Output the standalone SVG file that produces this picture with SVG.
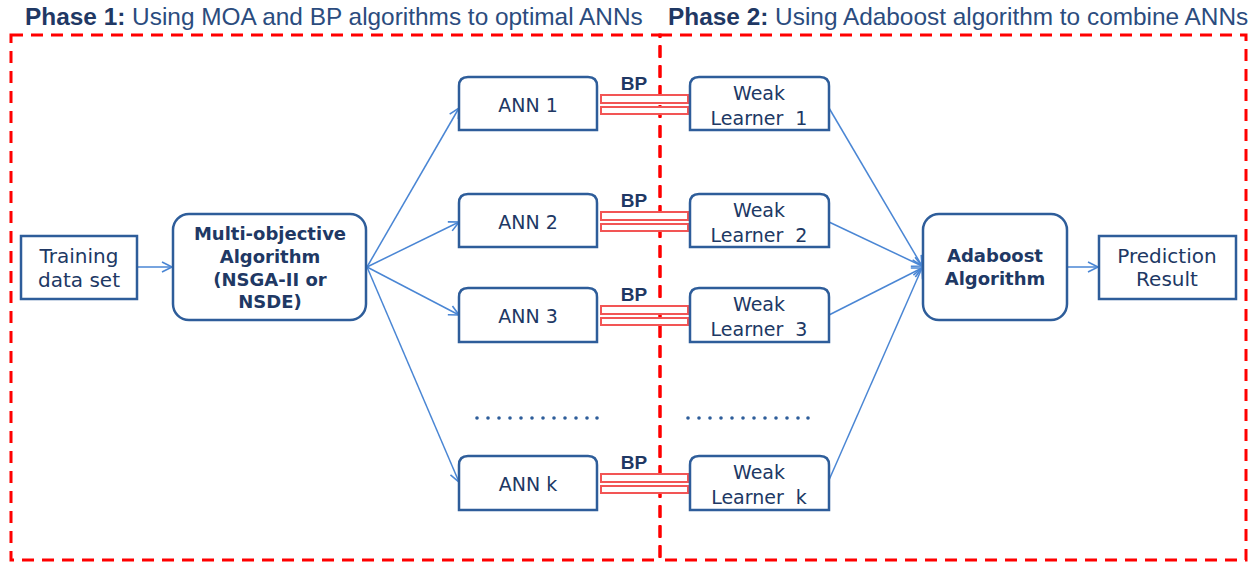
<svg xmlns="http://www.w3.org/2000/svg" width="1259" height="562" viewBox="0 0 1259 562">
  <defs>
    <marker id="arrow" markerUnits="userSpaceOnUse" markerWidth="14" markerHeight="14" refX="11" refY="6" orient="auto">
      <path d="M1,1 L11,6 L1,11" fill="none" stroke="#4A86D4" stroke-width="1.6"/>
    </marker>
    <style>
      .phase { fill: none; stroke: #FF0000; stroke-width: 3; stroke-dasharray: 12 8; }
      .title { font-family: "Liberation Sans", Arial, sans-serif; font-size: 24.4px; fill: #2B4C7E; }
      .title .b { font-weight: bold; fill: #1F3864; }
      .box { fill: #FFFFFF; stroke: #2E5D9A; stroke-width: 2.5; }
      .lbl { font-family: "DejaVu Sans", Verdana, sans-serif; font-size: 19px; fill: #203864; text-anchor: middle; white-space: pre; }
      .big { font-size: 20px; }
      .bold { font-family: "DejaVu Sans", Verdana, sans-serif; font-size: 18px; font-weight: bold; fill: #203864; text-anchor: middle; }
      .bp { font-family: "Liberation Sans", Arial, sans-serif; font-size: 19px; font-weight: bold; fill: #1F3864; text-anchor: middle; }
      .bar { fill: #FFFFFF; stroke: #F25555; stroke-width: 2; }
      .link { fill: none; stroke: #4A86D4; stroke-width: 1.5; marker-end: url(#arrow); }
      .dot { fill: #2E5D9A; }
    </style>
  </defs>

  <!-- phase frames -->
  <g id="phase1">
    <rect class="phase" x="11" y="35" width="649" height="525"/>
    <text class="title" x="25" y="25"><tspan class="b">Phase 1:</tspan> Using MOA and BP algorithms to optimal ANNs</text>
  </g>
  <g id="phase2">
    <rect class="phase" x="660" y="35" width="586" height="525"/>
    <text class="title" x="668" y="25"><tspan class="b">Phase 2:</tspan> Using Adaboost algorithm to combine ANNs</text>
  </g>

  <!-- connectors -->
  <g id="connectors">
    <line class="link" x1="137" y1="267" x2="172" y2="267"/>
    <line class="link" x1="367" y1="267" x2="459" y2="108"/>
    <line class="link" x1="367" y1="267" x2="459" y2="222"/>
    <line class="link" x1="367" y1="267" x2="459" y2="315"/>
    <line class="link" x1="367" y1="267" x2="459" y2="482"/>
    <line class="link" x1="829" y1="108" x2="922" y2="266"/>
    <line class="link" x1="829" y1="222" x2="922" y2="266"/>
    <line class="link" x1="829" y1="315" x2="922" y2="268"/>
    <line class="link" x1="829" y1="480" x2="922" y2="268"/>
    <line class="link" x1="1067" y1="267" x2="1098" y2="267"/>
  </g>

  <!-- input and optimiser -->
  <g id="training">
    <rect class="box" x="21" y="236" width="116" height="63"/>
    <text class="lbl big" x="79" y="263">Training</text>
    <text class="lbl big" x="79" y="287">data set</text>
  </g>
  <g id="moa">
    <rect class="box" x="173" y="214" width="193" height="106" rx="16"/>
    <text class="bold" x="270" y="240">Multi-objective</text>
    <text class="bold" x="270" y="263">Algorithm</text>
    <text class="bold" x="270" y="286">(NSGA-II or</text>
    <text class="bold" x="270" y="308">NSDE)</text>
  </g>

  <!-- networks -->
  <g id="ann1">
    <path class="box" d="M459,130 V86 Q459,77 468,77 H588 Q597,77 597,86 V130 Z"/>
    <text class="lbl" x="528" y="112">ANN 1</text>
  </g>
  <g id="ann2">
    <path class="box" d="M459,247 V203 Q459,194 468,194 H588 Q597,194 597,203 V247 Z"/>
    <text class="lbl" x="528" y="229">ANN 2</text>
  </g>
  <g id="ann3">
    <path class="box" d="M459,342 V297 Q459,288 468,288 H588 Q597,288 597,297 V342 Z"/>
    <text class="lbl" x="528" y="323">ANN 3</text>
  </g>
  <g id="annk">
    <path class="box" d="M459,510 V465 Q459,456 468,456 H588 Q597,456 597,465 V510 Z"/>
    <text class="lbl" x="528" y="491">ANN k</text>
  </g>

  <!-- BP links -->
  <g id="bp1">
    <text class="bp" x="634" y="90">BP</text>
    <rect class="bar" x="601" y="95" width="87" height="8"/>
    <rect class="bar" x="601" y="107" width="87" height="7"/>
  </g>
  <g id="bp2">
    <text class="bp" x="634" y="207">BP</text>
    <rect class="bar" x="601" y="212" width="87" height="8"/>
    <rect class="bar" x="601" y="224" width="87" height="7"/>
  </g>
  <g id="bp3">
    <text class="bp" x="634" y="301">BP</text>
    <rect class="bar" x="601" y="306" width="87" height="8"/>
    <rect class="bar" x="601" y="318" width="87" height="7"/>
  </g>
  <g id="bpk">
    <text class="bp" x="634" y="469">BP</text>
    <rect class="bar" x="601" y="474" width="87" height="8"/>
    <rect class="bar" x="601" y="486" width="87" height="7"/>
  </g>

  <!-- weak learners -->
  <g id="wl1">
    <path class="box" d="M690,130 V86 Q690,77 699,77 H820 Q829,77 829,86 V130 Z"/>
    <text class="lbl" x="759" y="100">Weak</text>
    <text class="lbl" x="759" y="125">Learner  1</text>
  </g>
  <g id="wl2">
    <path class="box" d="M690,247 V203 Q690,194 699,194 H820 Q829,194 829,203 V247 Z"/>
    <text class="lbl" x="759" y="217">Weak</text>
    <text class="lbl" x="759" y="242">Learner  2</text>
  </g>
  <g id="wl3">
    <path class="box" d="M690,342 V297 Q690,288 699,288 H820 Q829,288 829,297 V342 Z"/>
    <text class="lbl" x="759" y="311">Weak</text>
    <text class="lbl" x="759" y="336">Learner  3</text>
  </g>
  <g id="wlk">
    <path class="box" d="M690,510 V465 Q690,456 699,456 H820 Q829,456 829,465 V510 Z"/>
    <text class="lbl" x="759" y="479">Weak</text>
    <text class="lbl" x="759" y="504">Learner  k</text>
  </g>

  <!-- ellipsis rows -->
  <g id="dots-ann">
    <circle class="dot" cx="477" cy="418" r="1.8"/><circle class="dot" cx="488" cy="418" r="1.8"/>
    <circle class="dot" cx="499" cy="418" r="1.8"/><circle class="dot" cx="510" cy="418" r="1.8"/>
    <circle class="dot" cx="521" cy="418" r="1.8"/><circle class="dot" cx="532" cy="418" r="1.8"/>
    <circle class="dot" cx="543" cy="418" r="1.8"/><circle class="dot" cx="554" cy="418" r="1.8"/>
    <circle class="dot" cx="565" cy="418" r="1.8"/><circle class="dot" cx="576" cy="418" r="1.8"/>
    <circle class="dot" cx="587" cy="418" r="1.8"/><circle class="dot" cx="597" cy="418" r="1.8"/>
  </g>
  <g id="dots-wl">
    <circle class="dot" cx="688" cy="418" r="1.8"/><circle class="dot" cx="699" cy="418" r="1.8"/>
    <circle class="dot" cx="710" cy="418" r="1.8"/><circle class="dot" cx="721" cy="418" r="1.8"/>
    <circle class="dot" cx="732" cy="418" r="1.8"/><circle class="dot" cx="743" cy="418" r="1.8"/>
    <circle class="dot" cx="754" cy="418" r="1.8"/><circle class="dot" cx="765" cy="418" r="1.8"/>
    <circle class="dot" cx="776" cy="418" r="1.8"/><circle class="dot" cx="787" cy="418" r="1.8"/>
    <circle class="dot" cx="798" cy="418" r="1.8"/><circle class="dot" cx="808" cy="418" r="1.8"/>
  </g>

  <!-- combiner and output -->
  <g id="adaboost">
    <rect class="box" x="923" y="214" width="144" height="106" rx="16"/>
    <text class="bold" x="995" y="262">Adaboost</text>
    <text class="bold" x="995" y="285">Algorithm</text>
  </g>
  <g id="prediction">
    <rect class="box" x="1099" y="236" width="137" height="63"/>
    <text class="lbl big" x="1167" y="263">Prediction</text>
    <text class="lbl big" x="1167" y="286">Result</text>
  </g>
</svg>
